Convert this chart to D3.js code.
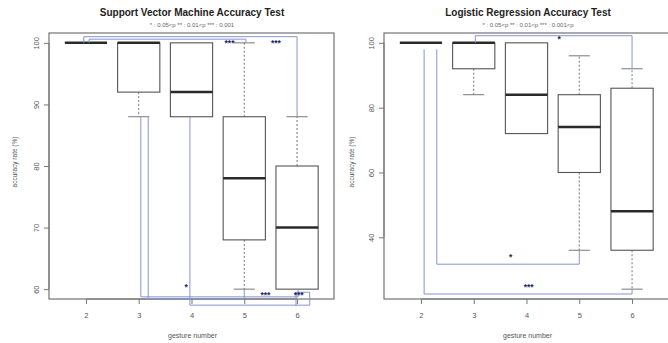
<!DOCTYPE html>
<html>
<head>
<meta charset="utf-8">
<script src="https://cdn.jsdelivr.net/npm/d3@7"></script>
<style>
  html, body { margin: 0; padding: 0; background: #fff; }
  svg { display: block; font-family: "Liberation Sans", Arial, sans-serif; }
</style>
</head>
<body>
<svg id="chart" width="668" height="343"></svg>
<script>
// Gesture groups on the x axis
const gestures = [2, 3, 4, 5, 6];

// Support Vector Machine: five-number summaries per gesture (%)
const svmMin = [100, 88, 88, 60, 60];
const svmQ1  = [100, 92, 88, 68, 60];
const svmMed = [100, 100, 92, 78, 70];
const svmQ3  = [100, 100, 100, 88, 80];
const svmMax = [100, 100, 100, 100, 88];
const svmTicks = [60, 70, 80, 90, 100];

// Logistic Regression: five-number summaries per gesture (%)
const lrMin = [100, 84, 72, 36, 24];
const lrQ1  = [100, 92, 72, 60, 36];
const lrMed = [100, 100, 84, 74, 48];
const lrQ3  = [100, 100, 100, 84, 86];
const lrMax = [100, 100, 100, 96, 92];
const lrTicks = [40, 60, 80, 100];

// Significance brackets (gesture / accuracy units): x1,y1 -> y -> x2,y2
const svmBrackets = [
  { x1: 1.96, y1: 100, y: 101.0, x2: 6.0, y2: 88, label: "***", lx: 5.6, ly: 99.8 },
  { x1: 2.06, y1: 100, y: 100.6, x2: 5.03, y2: 100, label: "***", lx: 4.72, ly: 99.8 },
  { x1: 3.04, y1: 88, y: 58.75, x2: 6.02, y2: 60, label: "***", lx: 5.4, ly: 59.0 },
  { x1: 3.18, y1: 88, y: 58.45, x2: 5.0, y2: 60, label: "", lx: 0, ly: 0 },
  { x1: 3.97, y1: 88, y: 57.4, x2: 6.24, y2: 59.5, label: "*", lx: 3.9, ly: 60.2 },
  { x1: 5.98, y1: 57.4, y: 59.5, x2: 6.24, y2: 59.5, label: "***", lx: 6.03, ly: 59.0 }
];
const lrBrackets = [
  { x1: 3.03, y1: 100, y: 102.2, x2: 6.0, y2: 92, label: "*", lx: 4.62, ly: 101.0 },
  { x1: 2.06, y1: 98, y: 22.5, x2: 6.0, y2: 24, label: "***", lx: 4.04, ly: 24.3 },
  { x1: 2.3, y1: 98, y: 31.7, x2: 5.0, y2: 36, label: "*", lx: 3.7, ly: 33.8 }
];

const svg = d3.select("#chart");

function panel(opts) {
  const { left, right, top, bottom, yDomain, ticks, mins, q1s, meds, q3s, maxs,
          brackets, title, subtitle, titleX, ylabX, ytickX } = opts;
  const g = svg.append("g");
  const x = d3.scaleLinear().domain([1.3, 6.7]).range([left, right]);
  const y = d3.scaleLinear().domain(yDomain).range([bottom, top]);
  const boxW = (x(3) - x(2)) * 0.8;
  const capW = boxW * 0.5;

  // plot frame
  g.append("rect")
    .attr("x", left).attr("y", top)
    .attr("width", right - left).attr("height", bottom - top)
    .attr("fill", "none").attr("stroke", "#666").attr("stroke-width", 1.1);

  // y axis
  const ya = g.append("g").attr("transform", `translate(${left},0)`)
    .call(d3.axisLeft(y).tickValues(ticks).tickSize(5).tickFormat(d3.format("d")));
  ya.select(".domain").attr("stroke", "#777")
    .attr("d", `M0,${y(ticks[0])}V${y(ticks[ticks.length - 1])}`);
  ya.selectAll(".tick line").attr("stroke", "#777");
  ya.selectAll(".tick text")
    .attr("fill", "#555").attr("font-size", 7.5)
    .attr("transform", `translate(${ytickX - left},0) rotate(-90)`)
    .attr("x", 0).attr("y", 0).attr("dy", "0.35em")
    .attr("text-anchor", "middle");

  // x axis
  const xa = g.append("g").attr("transform", `translate(0,${bottom})`)
    .call(d3.axisBottom(x).tickValues(gestures).tickSize(5).tickFormat(d3.format("d")));
  xa.select(".domain").attr("stroke", "#777")
    .attr("d", `M${x(gestures[0])},0H${x(gestures[gestures.length - 1])}`);
  xa.selectAll(".tick line").attr("stroke", "#777");
  xa.selectAll(".tick text").attr("fill", "#555").attr("font-size", 7.5).attr("dy", "1.45em");

  // boxes
  const boxes = gestures.map((k, i) => ({ k, min: mins[i], q1: q1s[i], med: meds[i], q3: q3s[i], max: maxs[i] }));
  const bg = g.selectAll(".box").data(boxes).join("g");
  // whiskers
  bg.filter(d => d.max > d.q3).append("line")
    .attr("x1", d => x(d.k)).attr("x2", d => x(d.k))
    .attr("y1", d => y(d.q3)).attr("y2", d => y(d.max))
    .attr("stroke", "#777").attr("stroke-dasharray", "2,2");
  bg.filter(d => d.max > d.q3).append("line")
    .attr("x1", d => x(d.k) - capW / 2).attr("x2", d => x(d.k) + capW / 2)
    .attr("y1", d => y(d.max)).attr("y2", d => y(d.max))
    .attr("stroke", "#777");
  bg.filter(d => d.min < d.q1).append("line")
    .attr("x1", d => x(d.k)).attr("x2", d => x(d.k))
    .attr("y1", d => y(d.q1)).attr("y2", d => y(d.min))
    .attr("stroke", "#777").attr("stroke-dasharray", "2,2");
  bg.filter(d => d.min < d.q1).append("line")
    .attr("x1", d => x(d.k) - capW / 2).attr("x2", d => x(d.k) + capW / 2)
    .attr("y1", d => y(d.min)).attr("y2", d => y(d.min))
    .attr("stroke", "#777");
  bg.append("rect")
    .attr("x", d => x(d.k) - boxW / 2).attr("width", boxW)
    .attr("y", d => y(d.q3)).attr("height", d => y(d.q1) - y(d.q3))
    .attr("fill", "none").attr("stroke", "#555").attr("stroke-width", 1.1);
  bg.append("line")
    .attr("x1", d => x(d.k) - boxW / 2).attr("x2", d => x(d.k) + boxW / 2)
    .attr("y1", d => y(d.med)).attr("y2", d => y(d.med))
    .attr("stroke", "#2a2a2a").attr("stroke-width", 2.5);

  // significance brackets
  g.selectAll(".br").data(brackets).join("path")
    .attr("d", d => `M${x(d.x1)},${y(d.y1)}V${y(d.y)}H${x(d.x2)}V${y(d.y2)}`)
    .attr("fill", "none").attr("stroke", "#8593d2").attr("stroke-width", 1);
  g.selectAll(".bl").data(brackets.filter(d => d.label)).join("text")
    .attr("x", d => x(d.lx)).attr("y", d => y(d.ly))
    .attr("text-anchor", "middle").attr("dominant-baseline", "middle")
    .attr("font-size", 8.5).attr("font-weight", "bold").attr("fill", "#242466")
    .text(d => d.label);

  // titles and axis labels
  g.append("text").attr("x", titleX).attr("y", 16)
    .attr("text-anchor", "middle").attr("font-size", 10).attr("font-weight", "bold")
    .attr("fill", "#222").text(title);
  g.append("text").attr("x", titleX).attr("y", 27)
    .attr("text-anchor", "middle").attr("font-size", 6).attr("fill", "#666")
    .text(subtitle);
  g.append("text").attr("x", (left + right) / 2 + 1).attr("y", 338)
    .attr("text-anchor", "middle").attr("font-size", 7).attr("fill", "#555")
    .text("gesture number");
  g.append("text")
    .attr("transform", `translate(${ylabX},162) rotate(-90)`)
    .attr("text-anchor", "middle").attr("dominant-baseline", "middle")
    .attr("font-size", 6.5).attr("fill", "#555")
    .text("accuracy rate   (%)");
}

panel({
  left: 49, right: 334, top: 33, bottom: 299,
  yDomain: [58.4, 101.6], ticks: svmTicks,
  mins: svmMin, q1s: svmQ1, meds: svmMed, q3s: svmQ3, maxs: svmMax,
  brackets: svmBrackets,
  title: "Support Vector Machine Accuracy Test",
  subtitle: "* : 0.05<p   ** : 0.01<p  *** : 0.001",
  titleX: 192, ylabX: 15, ytickX: 36
});

panel({
  left: 384, right: 669, top: 33, bottom: 299,
  yDomain: [20.96, 103.04], ticks: lrTicks,
  mins: lrMin, q1s: lrQ1, meds: lrMed, q3s: lrQ3, maxs: lrMax,
  brackets: lrBrackets,
  title: "Logistic Regression Accuracy Test",
  subtitle: "* : 0.05<p   ** : 0.01<p  *** : 0.001<p",
  titleX: 528, ylabX: 352, ytickX: 371
});
</script>
</body>
</html>
